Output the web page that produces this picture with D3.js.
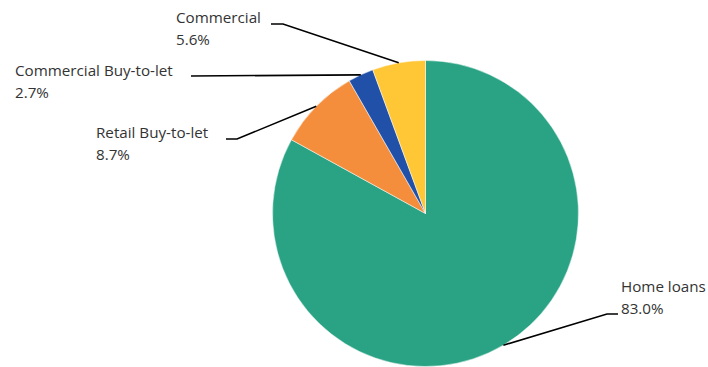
<!DOCTYPE html>
<html>
<head>
<meta charset="utf-8">
<script src="https://cdn.jsdelivr.net/npm/d3@7"></script>
<style>
  body { margin: 0; background: #fff; }
  svg { display: block; }
</style>
</head>
<body>
<svg id="chart"></svg>
<script>
// data
const categories = ["Home loans", "Retail Buy-to-let", "Commercial Buy-to-let", "Commercial"];
const shares = [83.0, 8.7, 2.7, 5.6];
const colors = ["#29a384", "#f48e3c", "#2050a8", "#ffc636"];

// label layout: text left x, first baseline y, elbow point, line end near text
const labelLayout = [
  { tx: 621, ty: 292, elbow: [607, 314], end: [618, 314] },
  { tx: 96, ty: 138, elbow: [237, 139], end: [226, 139] },
  { tx: 15, ty: 76, elbow: [191, 76], end: [191, 76] },
  { tx: 176, ty: 23, elbow: [283, 24], end: [271, 24] },
];

const width = 708;
const height = 367;
const cx = 425.5;
const cy = 213.5;
const radius = 153;

const svg = d3.select("#chart").attr("width", width).attr("height", height);

const data = categories.map((name, i) => ({ name, value: shares[i], color: colors[i], lab: labelLayout[i] }));

const pie = d3.pie().sort(null).value((d) => d.value);
const arc = d3.arc().innerRadius(0).outerRadius(radius);
const arcs = pie(data);

const g = svg.append("g").attr("transform", `translate(${cx},${cy})`);

g.selectAll("path")
  .data(arcs)
  .join("path")
  .attr("d", arc)
  .attr("fill", (d) => d.data.color)
  .attr("stroke", "#fff")
  .attr("stroke-width", 0.5);

// leader lines
const edge = (d) => {
  const a = (d.startAngle + d.endAngle) / 2;
  return [cx + radius * Math.sin(a), cy - radius * Math.cos(a)];
};

svg.selectAll("polyline")
  .data(arcs)
  .join("polyline")
  .attr("fill", "none")
  .attr("stroke", "#000")
  .attr("stroke-width", 1.6)
  .attr("points", (d) => [edge(d), d.data.lab.elbow, d.data.lab.end].map((p) => p.join(",")).join(" "));

// labels
const labels = svg.selectAll("text.lbl")
  .data(arcs)
  .join("text")
  .attr("class", "lbl")
  .attr("font-family", "'Open Sans', sans-serif")
  .attr("font-size", 15.2)
  .attr("fill", "#333")
  .attr("x", (d) => d.data.lab.tx)
  .attr("y", (d) => d.data.lab.ty);

labels.append("tspan").text((d) => d.data.name);
labels.append("tspan")
  .attr("x", (d) => d.data.lab.tx)
  .attr("dy", 22)
  .text((d) => d3.format(".1f")(d.data.value) + "%");
</script>
</body>
</html>
